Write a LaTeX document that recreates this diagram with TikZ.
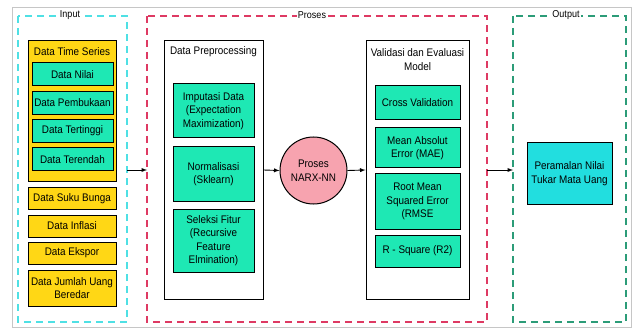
\documentclass[tikz,border=0pt]{standalone}
\usepackage{fontspec}
\setmainfont[FakeStretch=0.9]{Liberation Sans}
\begin{document}
\begin{tikzpicture}[x=1pt,y=-1pt,
  font=\fontsize{11}{13.5}\selectfont,
  box/.style={draw=black, line width=1pt, align=center, inner sep=1pt},
  yellowbox/.style={box, fill=dataYellow},
  tealbox/.style={box, fill=dataTeal},
  frame/.style={dash pattern=on 7pt off 5pt, line width=1.1pt},
  title/.style={fill=white, inner sep=1pt, font=\fontsize{10}{11}\selectfont},
  arrow/.style={-latex, line width=0.9pt}]

% Define the colors
\definecolor{dataYellow}{HTML}{FFD715}
\definecolor{dataTeal}{HTML}{1EE8B4}
\definecolor{dataCyan}{HTML}{22DEDF}
\definecolor{dataPink}{HTML}{F7A3AF}
\definecolor{inputCyan}{HTML}{4FE0E4}
\definecolor{prosesRed}{HTML}{DE3A63}
\definecolor{outputGreen}{HTML}{2C9C78}

% Draw the outer frame
\useasboundingbox (0,0) rectangle (633,329);
\draw[gray!45, line width=0.8pt] (12,7) rectangle (631,327);

% Draw the three stages
\draw[frame, inputCyan] (18,16) rectangle (127,322);
\draw[frame, prosesRed] (147,16) rectangle (487,322);
\draw[frame, outputGreen] (513,16) rectangle (626,322);
\node[title] (inputtitle) at (70,15) {Input};
\node[title] (prosestitle) at (312,15) {Proses};
\node[title] (outputtitle) at (566,15) {Output};
\coordinate (inputeast) at (127,170);
\coordinate (proseswest) at (147,170);
\coordinate (proseseast) at (487,170);
\coordinate (outputwest) at (513,170);

% Draw the input data
\node[yellowbox, minimum width=88pt, minimum height=141pt] (timeseries) at (72,111.5) {};
\node (tstitle) at (72,52) {Data Time Series};
\node[tealbox, minimum width=81pt, minimum height=23pt] (nilai) at (72.5,74.5) {Data Nilai};
\node[tealbox, minimum width=81pt, minimum height=23pt] (pembukaan) at (72.5,103) {Data Pembukaan};
\node[tealbox, minimum width=81pt, minimum height=23pt] (tertinggi) at (72.5,131) {Data Tertinggi};
\node[tealbox, minimum width=81pt, minimum height=23pt] (terendah) at (72.5,159.5) {Data Terendah};
\node[yellowbox, minimum width=88pt, minimum height=21pt] (bunga) at (72,198.5) {Data Suku Bunga};
\node[yellowbox, minimum width=88pt, minimum height=22pt] (inflasi) at (72,226) {Data Inflasi};
\node[yellowbox, minimum width=88pt, minimum height=22pt] (ekspor) at (72,253) {Data Ekspor};
\node[yellowbox, minimum width=88pt, minimum height=36pt] (jumlah) at (72,288) {Data Jumlah Uang\\Beredar};

% Draw the preprocessing
\node[box, fill=white, minimum width=99pt, minimum height=258pt] (prep) at (213.5,170) {};
\node (preptitle) at (213.5,52) {Data Preprocessing};
\node[tealbox, minimum width=81pt, minimum height=54pt] (imputasi) at (213.5,111) {Imputasi Data\\(Expectation\\Maximization)};
\node[tealbox, minimum width=81pt, minimum height=54pt] (normal) at (213.5,174) {Normalisasi\\(Sklearn)};
\node[tealbox, minimum width=81pt, minimum height=63pt] (seleksi) at (213.5,240.5) {Seleksi Fitur\\(Recursive\\Feature\\Elmination)};

% Draw the model
\node[box, circle, fill=dataPink, minimum size=67pt] (narx) at (313.5,170.5) {Proses\\NARX-NN};

% Draw the validation
\node[box, fill=white, minimum width=103pt, minimum height=258pt] (valid) at (417.5,170) {};
\node[align=center] (validtitle) at (417.5,59.5) {Validasi dan Evaluasi\\Model};
\node[tealbox, minimum width=85pt, minimum height=34pt] (cross) at (417.5,103) {Cross Validation};
\node[tealbox, minimum width=85pt, minimum height=40pt] (mae) at (417.5,148) {Mean Absolut\\Error (MAE)};
\node[tealbox, minimum width=85pt, minimum height=55pt] (rmse) at (417.5,201.5) {Root Mean\\Squared Error\\(RMSE};
\node[tealbox, minimum width=85pt, minimum height=32pt] (rsquare) at (417.5,251) {R - Square (R2)};

% Draw the output
\node[box, fill=dataCyan, minimum width=85pt, minimum height=61pt] (peramalan) at (569.5,173.5) {Peramalan Nilai\\Tukar Mata Uang};

% Draw the arrows
\draw[arrow] (inputeast) -- (proseswest);
\draw[arrow] (prep.east) -- (narx.west);
\draw[arrow] (narx.east) -- (valid.west);
\draw[arrow] (proseseast) -- (outputwest);

\end{tikzpicture}
\end{document}
